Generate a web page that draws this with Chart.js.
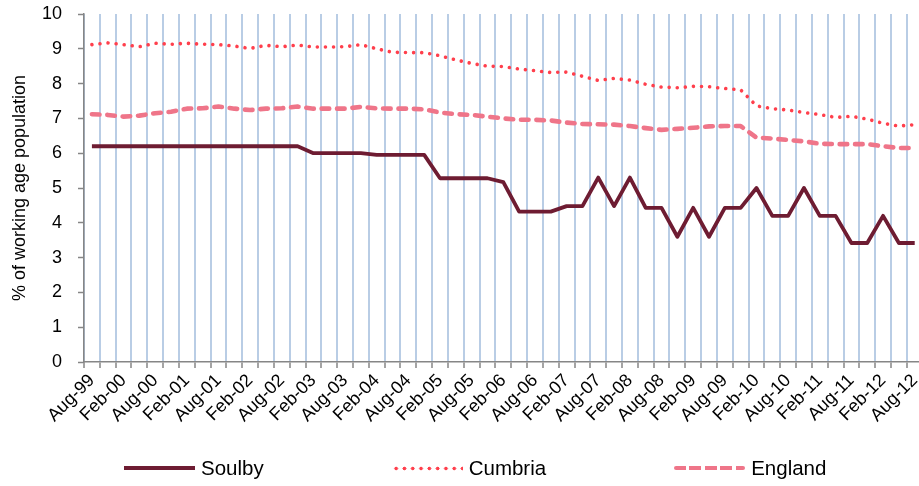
<!DOCTYPE html>
<html>
<head>
<meta charset="utf-8">
<script src="https://cdn.jsdelivr.net/npm/chart.js@4"></script>
<style>
  html, body { margin: 0; padding: 0; background: #fff; overflow: hidden; }
  #wrap { position: relative; width: 919px; height: 486px; overflow: hidden; }
  #box { position: absolute; left: 0; top: 0; width: 932px; height: 486px; }
  #legend {
    position: absolute; left: 124px; top: 456px;
    display: flex; gap: 128px; align-items: center;
    font-family: 'Liberation Sans', Arial, sans-serif; font-size: 20.5px; color: #000;
  }
  #legend .item { display: flex; align-items: center; gap: 6px; }
  #legend .sample { width: 71px; height: 5px; }
</style>
</head>
<body>
<div id="wrap">
  <div id="box"><canvas id="chart"></canvas></div>
  <div id="legend"></div>
</div>
<script>
// ── Data ───────────────────────────────────────────────────────
const quarters = [
  'Aug-99', 'Nov-99', 'Feb-00', 'May-00', 'Aug-00', 'Nov-00', 'Feb-01', 'May-01',
  'Aug-01', 'Nov-01', 'Feb-02', 'May-02', 'Aug-02', 'Nov-02', 'Feb-03', 'May-03',
  'Aug-03', 'Nov-03', 'Feb-04', 'May-04', 'Aug-04', 'Nov-04', 'Feb-05', 'May-05',
  'Aug-05', 'Nov-05', 'Feb-06', 'May-06', 'Aug-06', 'Nov-06', 'Feb-07', 'May-07',
  'Aug-07', 'Nov-07', 'Feb-08', 'May-08', 'Aug-08', 'Nov-08', 'Feb-09', 'May-09',
  'Aug-09', 'Nov-09', 'Feb-10', 'May-10', 'Aug-10', 'Nov-10', 'Feb-11', 'May-11',
  'Aug-11', 'Nov-11', 'Feb-12', 'May-12', 'Aug-12'
];

const soulby = [
  6.2, 6.2, 6.2, 6.2, 6.2, 6.2, 6.2, 6.2, 6.2, 6.2, 6.2, 6.2, 6.2, 6.2,
  6.0, 6.0, 6.0, 6.0,
  5.95, 5.95, 5.95, 5.95,
  5.28, 5.28, 5.28, 5.28,
  5.17, 4.32, 4.32, 4.32,
  4.48, 4.48, 5.3, 4.48, 5.3,
  4.43, 4.43, 3.6, 4.43, 3.6, 4.43, 4.43,
  5.0, 4.2, 4.2, 5.0, 4.2, 4.2,
  3.42, 3.42, 4.2, 3.42, 3.42
];

const cumbria = [
  9.12, 9.17, 9.12, 9.06, 9.16, 9.13, 9.16, 9.13, 9.12, 9.08,
  9.01, 9.1, 9.06, 9.11, 9.05, 9.05, 9.06, 9.12, 9.0, 8.9,
  8.89, 8.89, 8.8, 8.68, 8.58, 8.5, 8.49, 8.42, 8.37, 8.32,
  8.33, 8.21, 8.09, 8.15, 8.1, 7.98, 7.9, 7.88, 7.92, 7.91,
  7.86, 7.82, 7.36, 7.28, 7.24, 7.17, 7.11, 7.03, 7.06, 6.98,
  6.86, 6.78, 6.82
];

const england = [
  7.12, 7.1, 7.05, 7.08, 7.15, 7.19, 7.28, 7.29, 7.34, 7.28,
  7.24, 7.28, 7.29, 7.34, 7.28, 7.28, 7.28, 7.33, 7.29, 7.28,
  7.28, 7.26, 7.17, 7.12, 7.1, 7.05, 7.0, 6.96, 6.96, 6.94,
  6.88, 6.84, 6.83, 6.82, 6.78, 6.72, 6.67, 6.7, 6.73, 6.77,
  6.78, 6.78, 6.45, 6.42, 6.38, 6.34, 6.27, 6.26, 6.26, 6.26,
  6.2, 6.15, 6.15
];

const yTicks = [0, 1, 2, 3, 4, 5, 6, 7, 8, 9, 10];

// ── Styles ─────────────────────────────────────────────────────
const FONT = "'Liberation Sans', Arial, sans-serif";
const AXIS_GREY = '#868686';
const GRID_BLUE = '#B9CDE5';

const seriesStyle = {
  Soulby:  { color: '#6E1C32', width: 3.8, dash: [], cap: 'butt' },
  Cumbria: { color: '#FF3F4C', width: 3.6, dash: [0.01, 8.1], cap: 'round' },
  England: { color: '#EF7589', width: 4.6, dash: [7.6, 7.8], cap: 'round' }
};

function makeSet(label, data) {
  const s = seriesStyle[label];
  return {
    label: label,
    data: data,
    borderColor: s.color,
    backgroundColor: s.color,
    borderWidth: s.width,
    borderDash: s.dash,
    borderCapStyle: s.cap,
    borderJoinStyle: 'round',
    pointRadius: 0,
    tension: 0,
    fill: false
  };
}

// ── Chart ──────────────────────────────────────────────────────
const ctx = document.getElementById('chart').getContext('2d');
const chart = new Chart(ctx, {
  type: 'line',
  data: {
    labels: quarters,
    datasets: [
      makeSet('England', england),
      makeSet('Cumbria', cumbria),
      makeSet('Soulby', soulby)
    ]
  },
  options: {
    responsive: true,
    maintainAspectRatio: false,
    animation: false,
    layout: { padding: { top: 14, right: 1, left: 0, bottom: 0 } },
    plugins: {
      legend: { display: false },
      tooltip: { enabled: false }
    },
    scales: {
      x: {
        type: 'category',
        offset: true,
        afterFit: function (scale) { scale.height = 124; },
        border: { display: true, color: AXIS_GREY, width: 1.5 },
        grid: {
          offset: true,
          color: GRID_BLUE,
          lineWidth: 2,
          tickColor: AXIS_GREY,
          tickLength: 6,
          tickWidth: 1.5
        },
        ticks: {
          autoSkip: false,
          minRotation: 45,
          maxRotation: 45,
          padding: 2,
          color: '#000',
          font: { family: FONT, size: 18 },
          callback: function (val, i) { return i % 2 === 0 ? quarters[i] : ''; }
        }
      },
      y: {
        min: 0,
        max: 10,
        afterFit: function (scale) {
          scale.width = 84;
          scale.paddingTop = 0;
          scale.paddingBottom = 0;
        },
        afterBuildTicks: function (scale) { scale.ticks = yTicks.map(v => ({ value: v })); },
        border: { display: true, color: AXIS_GREY, width: 1.5 },
        grid: {
          drawOnChartArea: false,
          color: AXIS_GREY,
          tickColor: AXIS_GREY,
          tickLength: 6,
          tickWidth: 1.5
        },
        ticks: {
          padding: 16,
          color: '#000',
          font: { family: FONT, size: 18 }
        },
        title: {
          display: true,
          text: '% of working age population',
          color: '#000',
          font: { family: FONT, size: 18 },
          padding: { top: 9, bottom: 0 }
        }
      }
    }
  }
});

// ── HTML Legend ────────────────────────────────────────────────
function sampleCss(s) {
  if (s.dash.length === 0) {
    return 'background:' + s.color + ';height:4px;';
  }
  if (s.cap === 'round' && s.dash[0] < 1) {
    return 'background: radial-gradient(circle, ' + s.color + ' 1.7px, transparent 2.1px) 0 50% / 8.3px 5px repeat-x;';
  }
  return 'background: repeating-linear-gradient(90deg, ' + s.color + ' 0 12px, transparent 12px 15.4px);height:4.6px;border-radius:2px;';
}

const legendEl = document.getElementById('legend');
['Soulby', 'Cumbria', 'England'].forEach(function (name) {
  const item = document.createElement('div');
  item.className = 'item';
  item.innerHTML = '<div class="sample" style="' + sampleCss(seriesStyle[name]) + '"></div><span>' + name + '</span>';
  legendEl.appendChild(item);
});
</script>
</body>
</html>
